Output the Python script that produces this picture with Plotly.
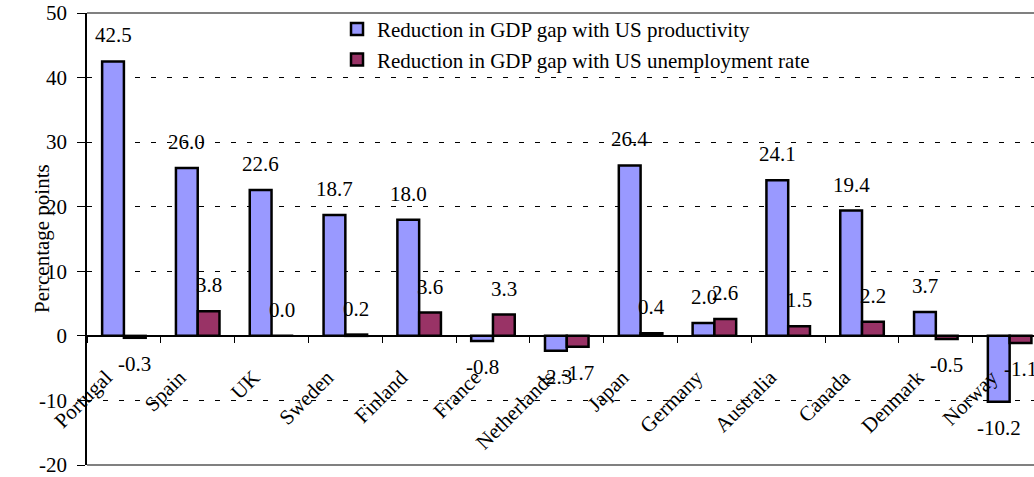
import plotly.graph_objects as go

countries = ["Portugal", "Spain", "UK", "Sweden", "Finland", "France", "Netherlands",
             "Japan", "Germany", "Australia", "Canada", "Denmark", "Norway"]
productivity = [42.5, 26.0, 22.6, 18.7, 18.0, -0.8, -2.3, 26.4, 2.0, 24.1, 19.4, 3.7, -10.2]
unemployment = [-0.3, 3.8, 0.0, 0.2, 3.6, 3.3, -1.7, 0.4, 2.6, 1.5, 2.2, -0.5, -1.1]
name_prod = "Reduction in GDP gap with US productivity"
name_unemp = "Reduction in GDP gap with US unemployment rate"
y_ticks = [-20, -10, 0, 10, 20, 30, 40, 50]
y_tick_text = ["-20", "-10", "0", "10", "20", "30", "40", "50"]

W, H = 1034, 477
ML, MR, MT, MB = 87, 0, 13, 10
FONT = "Liberation Serif"
FS = 21
BARGAP = 0.41
X_RANGE = [-0.5, 12.33]

plot_w = W - ML - MR
cat_px = plot_w / (X_RANGE[1] - X_RANGE[0])
bar_px = cat_px * (1 - BARGAP) / 2

fig = go.Figure()
fig.add_trace(go.Bar(x=countries, y=productivity, name=name_prod,
                     marker=dict(color="#9999FF", line=dict(color="black", width=2.5))))
fig.add_trace(go.Bar(x=countries, y=unemployment, name=name_unemp,
                     marker=dict(color="#993366", line=dict(color="black", width=2.5))))

annotations = []
for vals, sgn in ((productivity, -1), (unemployment, 1)):
    for c, v in zip(countries, vals):
        annotations.append(dict(
            x=c, y=v, xref="x", yref="y", text=f"{v:.1f}", showarrow=False,
            xshift=sgn * bar_px / 2, yshift=26 if v >= 0 else -26,
            yanchor="middle", xanchor="center",
            font=dict(family=FONT, size=FS, color="black")))
annotations.append(dict(
    x=0, y=0.5, xref="paper", yref="paper", xshift=-45, text="Percentage points",
    textangle=-90, showarrow=False, xanchor="center", yanchor="middle",
    font=dict(family=FONT, size=FS, color="black")))

fig.update_layout(
    width=W, height=H, margin=dict(l=ML, r=MR, t=MT, b=MB),
    paper_bgcolor="white", plot_bgcolor="white",
    barmode="group", bargap=BARGAP, bargroupgap=0,
    font=dict(family=FONT, size=FS, color="black"),
    showlegend=True,
    legend=dict(x=0.264, y=1.009, xanchor="left", yanchor="top",
                bgcolor="rgba(0,0,0,0)", font=dict(family=FONT, size=FS),
                tracegroupgap=0),
    annotations=annotations,
    xaxis=dict(type="category", range=X_RANGE, anchor="free", position=20 / 70,
               showline=True, linecolor="black", linewidth=1,
               ticks="outside", tickson="boundaries", ticklen=6, tickcolor="black",
               tickwidth=1, tickangle=-45, showgrid=False,
               ticklabeloverflow="allow", ticklabelstandoff=20, ticklabelshift=-18,
               tickfont=dict(family=FONT, size=FS)),
    yaxis=dict(range=[-20, 50], tickvals=y_ticks, ticktext=y_tick_text,
               showline=True, linecolor="black",
               linewidth=1.5, ticks="outside", ticklen=8, tickcolor="black", tickwidth=1,
               showgrid=True, gridcolor="black", gridwidth=1, griddash="5px,11px",
               zeroline=True, zerolinecolor="black", zerolinewidth=1,
               ticklabeloverflow="allow", ticklabelstandoff=6,
               tickfont=dict(family=FONT, size=FS)),
    shapes=[
        dict(type="line", xref="paper", yref="paper", x0=0, x1=1, y0=1, y1=1,
             line=dict(color="#808080", width=2), layer="above"),
        dict(type="line", xref="paper", yref="paper", x0=0, x1=1, y0=0, y1=0,
             line=dict(color="#808080", width=2), layer="above"),
    ],
)

fig.write_html("out.html")
